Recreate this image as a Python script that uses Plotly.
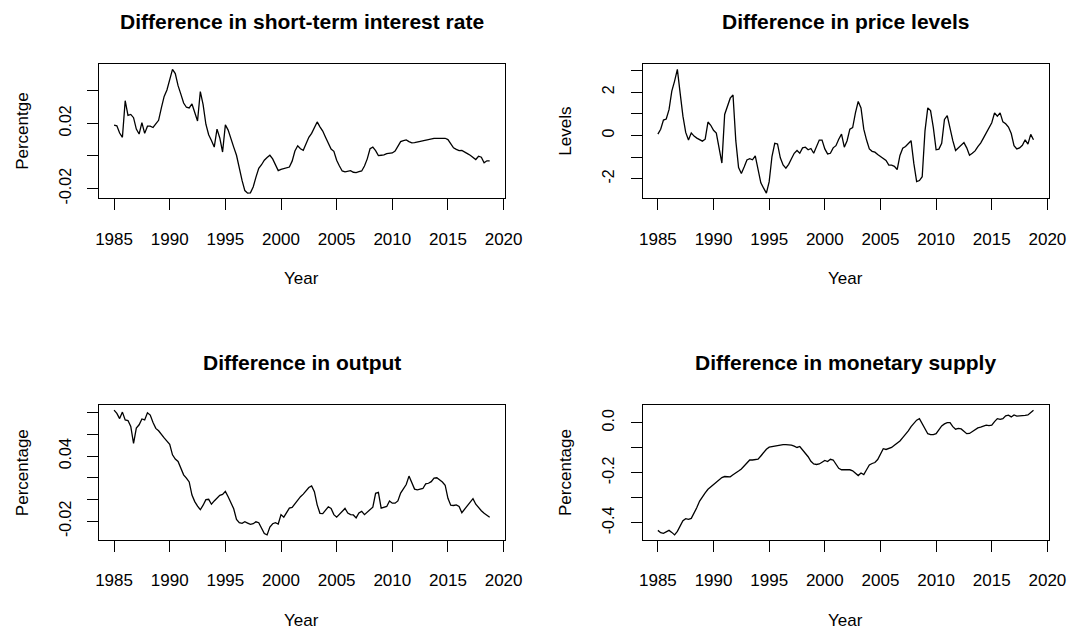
import plotly.graph_objects as go

# ---------------- data (quarterly, 1985Q1 - 2018Q4) ----------------
start_year = 1985
n_quarters = 136
years = [start_year + q / 4 for q in range(n_quarters)]

interest_rate_diff = [
    0.0188, 0.0184, 0.0140, 0.0114, 0.0338, 0.0248, 0.0254, 0.0234, 0.0164, 0.0134,
    0.0204, 0.0138, 0.0182, 0.0182, 0.0174, 0.0194, 0.0218, 0.0294, 0.0364, 0.0404,
    0.0470, 0.0530, 0.0504, 0.0430, 0.0378, 0.0324, 0.0298, 0.0294, 0.0318, 0.0260,
    0.0214, 0.0394, 0.0314, 0.0194, 0.0130, 0.0094, 0.0054, 0.0164, 0.0110, 0.0024,
    0.0190, 0.0158, 0.0100, 0.0054, 0.0004, -0.0076, -0.0150, -0.0212, -0.0228, -0.0226,
    -0.0190, -0.0130, -0.0076, -0.0054, -0.0026, -0.0010, 0.0004, -0.0018, -0.0056, -0.0090,
    -0.0082, -0.0076, -0.0074, -0.0068, -0.0032, 0.0030, 0.0062, 0.0044, 0.0034, 0.0070,
    0.0114, 0.0138, 0.0174, 0.0208, 0.0178, 0.0152, 0.0114, 0.0074, 0.0042, 0.0028,
    -0.0026, -0.0062, -0.0092, -0.0098, -0.0096, -0.0090, -0.0100, -0.0102, -0.0096, -0.0092,
    -0.0062, -0.0018, 0.0044, 0.0054, 0.0032, 0.0002, 0.0004, 0.0006, 0.0014, 0.0014,
    0.0018, 0.0030, 0.0064, 0.0088, 0.0094, 0.0098, 0.0088, 0.0080, 0.0082, 0.0086,
    0.0090, 0.0090, 0.0094, 0.0100, 0.0106, 0.0108, 0.0108, 0.0108, 0.0108, 0.0108,
    0.0100, 0.0074, 0.0050, 0.0040, 0.0032, 0.0034, 0.0026, 0.0014, 0.0004, -0.0010,
    -0.0022, -0.0002, -0.0008, -0.0042, -0.0030, -0.0030,
]

price_level_diff = [
    0.06, 0.29, 0.71, 0.76, 1.19, 2.05, 2.51, 3.05, 1.95, 0.89,
    0.14, -0.21, 0.12, -0.03, -0.12, -0.20, -0.26, -0.17, 0.62, 0.47,
    0.24, 0.11, -0.69, -1.27, 0.97, 1.30, 1.72, 1.87, -0.24, -1.48,
    -1.75, -1.45, -1.13, -1.07, -1.12, -0.94, -1.57, -2.18, -2.43, -2.66,
    -2.13, -0.97, -0.36, -0.39, -1.03, -1.36, -1.51, -1.33, -1.07, -0.82,
    -0.69, -0.82, -0.57, -0.54, -0.66, -0.60, -0.82, -0.51, -0.21, -0.21,
    -0.62, -0.85, -0.82, -0.57, -0.47, -0.17, 0.06, -0.54, -0.24, 0.29,
    0.36, 1.04, 1.57, 1.27, 0.29, -0.21, -0.62, -0.73, -0.77, -0.88,
    -0.97, -1.03, -1.15, -1.37, -1.37, -1.42, -1.57, -0.92, -0.59, -0.51,
    -0.36, -0.24, -1.30, -2.13, -2.08, -1.90, 0.21, 1.27, 1.15, 0.36,
    -0.66, -0.63, -0.36, 0.74, 0.92, 0.29, -0.24, -0.69, -0.57, -0.47,
    -0.33, -0.57, -0.91, -0.82, -0.71, -0.51, -0.35, -0.12, 0.14, 0.33,
    0.59, 1.04, 0.89, 1.04, 0.63, 0.54, 0.39, 0.09, -0.47, -0.62,
    -0.57, -0.45, -0.20, -0.40, 0.05, -0.20,
]

output_diff = [
    0.0824, 0.0794, 0.0746, 0.0806, 0.0734, 0.0728, 0.0674, 0.0517, 0.0659, 0.0689,
    0.0743, 0.0734, 0.0800, 0.0779, 0.0710, 0.0656, 0.0634, 0.0598, 0.0568, 0.0538,
    0.0508, 0.0412, 0.0373, 0.0351, 0.0282, 0.0228, 0.0198, 0.0162, 0.0041, -0.0019,
    -0.0061, -0.0094, -0.0052, -0.0001, 0.0002, -0.0043, -0.0013, 0.0011, 0.0038, 0.0047,
    0.0075, 0.0026, -0.0034, -0.0085, -0.0184, -0.0214, -0.0220, -0.0205, -0.0217, -0.0229,
    -0.0223, -0.0205, -0.0214, -0.0269, -0.0314, -0.0326, -0.0253, -0.0223, -0.0214, -0.0226,
    -0.0139, -0.0163, -0.0124, -0.0079, -0.0073, -0.0037, -0.0010, 0.0026, 0.0050, 0.0078,
    0.0111, 0.0126, 0.0072, -0.0049, -0.0127, -0.0130, -0.0103, -0.0067, -0.0082, -0.0139,
    -0.0163, -0.0133, -0.0103, -0.0082, -0.0124, -0.0139, -0.0142, -0.0169, -0.0124, -0.0109,
    -0.0139, -0.0118, -0.0097, -0.0070, 0.0057, 0.0066, -0.0079, -0.0073, -0.0064, -0.0013,
    -0.0034, -0.0034, -0.0013, 0.0060, 0.0096, 0.0138, 0.0216, 0.0156, 0.0096, 0.0090,
    0.0093, 0.0102, 0.0144, 0.0150, 0.0165, 0.0198, 0.0201, 0.0180, 0.0162, 0.0132,
    0.0011, -0.0052, -0.0055, -0.0049, -0.0064, -0.0121, -0.0088, -0.0064, -0.0031, 0.0008,
    -0.0043, -0.0079, -0.0103, -0.0127, -0.0142, -0.0163,
]

money_supply_diff = [
    -0.430, -0.439, -0.442, -0.435, -0.430, -0.438, -0.448, -0.434, -0.412, -0.391,
    -0.383, -0.386, -0.382, -0.362, -0.339, -0.313, -0.294, -0.280, -0.266, -0.257,
    -0.246, -0.240, -0.228, -0.219, -0.215, -0.216, -0.216, -0.208, -0.199, -0.193,
    -0.185, -0.172, -0.158, -0.149, -0.149, -0.149, -0.146, -0.133, -0.117, -0.106,
    -0.098, -0.096, -0.094, -0.091, -0.088, -0.088, -0.088, -0.088, -0.090, -0.094,
    -0.099, -0.095, -0.108, -0.120, -0.136, -0.154, -0.165, -0.167, -0.165, -0.158,
    -0.151, -0.155, -0.146, -0.149, -0.168, -0.182, -0.188, -0.188, -0.188, -0.188,
    -0.192, -0.201, -0.211, -0.201, -0.207, -0.188, -0.169, -0.163, -0.159, -0.147,
    -0.126, -0.104, -0.107, -0.104, -0.099, -0.090, -0.083, -0.073, -0.060, -0.047,
    -0.033, -0.016, -0.003, 0.010, 0.016, -0.005, -0.029, -0.044, -0.048, -0.048,
    -0.044, -0.030, -0.013, -0.005, 0.000, 0.000, -0.016, -0.026, -0.023, -0.025,
    -0.034, -0.044, -0.043, -0.035, -0.030, -0.021, -0.018, -0.014, -0.010, -0.012,
    -0.010, 0.004, 0.016, 0.013, 0.016, 0.027, 0.030, 0.023, 0.031, 0.026,
    0.026, 0.027, 0.029, 0.031, 0.039, 0.050,
]

titles = [
    "Difference in short-term interest rate",
    "Difference in price levels",
    "Difference in output",
    "Difference in monetary supply",
]
y_labels = ["Percentge", "Levels", "Percentage", "Percentage"]
x_label = "Year"
x_tick_vals = [1985, 1990, 1995, 2000, 2005, 2010, 2015, 2020]

y_tick_vals = [
    [-0.02, 0.0, 0.02, 0.04],
    [-2, -1, 0, 1, 2, 3],
    [-0.02, 0.0, 0.02, 0.04, 0.06, 0.08],
    [-0.4, -0.3, -0.2, -0.1, 0.0],
]
y_tick_text = [
    ["-0.02", "", "0.02", ""],
    ["-2", "", "0", "", "2", ""],
    ["-0.02", "", "", "0.04", "", ""],
    ["-0.4", "", "-0.2", "", "0.0"],
]

series = [interest_rate_diff, price_level_diff, output_diff, money_supply_diff]

# ---------------- layout geometry (pixels) ----------------
W, H = 1092, 639
boxes = [  # left, right, top, bottom
    (97, 511, 65, 200),
    (652, 1066, 65, 200),
    (97, 511, 409, 545),
    (652, 1066, 409, 545),
]
title_y = [22, 22, 366, 366]
xlab_y = [281, 281, 626, 626]
ylab_x = [19, 573, 19, 573]

FONT = "Liberation Sans, Arial, sans-serif"


def r_range(vals):
    lo, hi = min(vals), max(vals)
    pad = 0.04 * (hi - lo)
    return [lo - pad, hi + pad]


fig = go.Figure()
layout_axes = {}
annotations = []
for i, (vals, box) in enumerate(zip(series, boxes)):
    n = i + 1
    xa = "x" if n == 1 else f"x{n}"
    ya = "y" if n == 1 else f"y{n}"
    l, r, t, b = box
    fig.add_trace(go.Scatter(
        x=years, y=vals, mode="lines", xaxis=xa, yaxis=ya,
        line=dict(color="black", width=1.3), showlegend=False,
        hoverinfo="x+y",
    ))
    common = dict(
        showline=True, linecolor="black", linewidth=1, mirror=True,
        showgrid=False, zeroline=False, ticks="outside", ticklen=11,
        tickwidth=1, tickcolor="black",
    )
    layout_axes["xaxis" if n == 1 else f"xaxis{n}"] = dict(
        domain=[l / W, r / W], anchor=ya, range=r_range(years),
        tickmode="array", tickvals=x_tick_vals,
        tickfont=dict(family=FONT, size=17, color="black"),
        ticklabelstandoff=14, **common,
    )
    layout_axes["yaxis" if n == 1 else f"yaxis{n}"] = dict(
        domain=[1 - b / H, 1 - t / H], anchor=xa, range=r_range(vals),
        tickmode="array", tickvals=y_tick_vals[i], ticktext=y_tick_text[i],
        tickangle=-90, tickfont=dict(family=FONT, size=16, color="black"),
        ticklabelstandoff=10, **common,
    )
    cx = (l + r) / 2 / W
    annotations.append(dict(
        text=f"<b>{titles[i]}</b>", x=cx, y=1 - title_y[i] / H,
        xref="paper", yref="paper", showarrow=False,
        xanchor="center", yanchor="middle",
        font=dict(family=FONT, size=21, color="black"),
    ))
    annotations.append(dict(
        text=x_label, x=cx, y=1 - xlab_y[i] / H,
        xref="paper", yref="paper", showarrow=False,
        xanchor="center", yanchor="middle",
        font=dict(family=FONT, size=17, color="black"),
    ))
    annotations.append(dict(
        text=y_labels[i], x=ylab_x[i] / W, y=1 - (t + b) / 2 / H,
        xref="paper", yref="paper", showarrow=False, textangle=-90,
        xanchor="center", yanchor="middle",
        font=dict(family=FONT, size=17, color="black"),
    ))

fig.update_layout(
    width=W, height=H, margin=dict(l=0, r=0, t=0, b=0),
    paper_bgcolor="white", plot_bgcolor="white",
    annotations=annotations, **layout_axes,
)

fig.write_html(
    "out.html",
    config={"displayModeBar": False},
    post_script="document.body.style.margin='0';",
)
